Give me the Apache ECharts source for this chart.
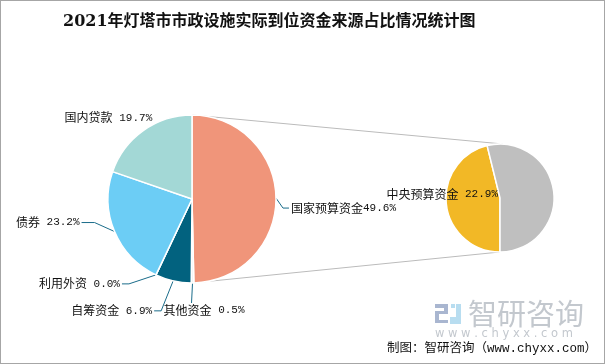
<!DOCTYPE html>
<html>
<head>
<meta charset="utf-8">
<script src="https://cdn.jsdelivr.net/npm/echarts@6/dist/echarts.min.js"></script>
<style>
html,body{margin:0;padding:0;background:#fff;}
#c{width:605px;height:364px;box-sizing:border-box;border:1px solid #A6A6A6;}
</style>
</head>
<body>
<div id="c"></div>
<script>
// ---- data ----
var mainNames = ['国家预算资金', '其他资金', '自筹资金', '利用外资', '债券', '国内贷款'];
var mainValues = [49.6, 0.5, 6.9, 0.0, 23.2, 19.7];
var mainSeps = ['', ' ', ' ', ' ', ' ', ' '];
var subNames = ['中央预算资金', '其他国家预算资金'];
var subValues = [22.9, 26.7];

// ---- styles ----
var mainColors = ['#F0957A', '#F4F4F4', '#02627F', '#4A8FA8', '#6CCDF5', '#A3D8D6'];
var subColors = ['#F2B826', '#BFBFBF'];

// ---- layout ----
var leftC = [191, 198], leftR = 84;
var rightC = [499, 197], rightR = 54;
// label placement relative to the slice edge point given by the library
var labelCfg = [
  {ox: 13, oy: 10, side: 'right', len2: 6},
  {ox: -1, oy: 20, side: 'below', shiftX: -28},
  {ox: -19, oy: 30, side: 'left', len2: 7},
  {ox: -34, oy: 9, side: 'left', len2: 7},
  {ox: -33, oy: -9, side: 'left', len2: 13},
  {ox: 11, oy: -13, side: 'left', len2: 0, noLine: true}
];

var chart = echarts.init(document.getElementById('c'), null, {renderer: 'canvas'});

var mainData = mainNames.map(function (n, i) {
  return {name: n, value: mainValues[i], itemStyle: {color: mainColors[i]}};
});
var subData = subNames.map(function (n, i) {
  return {
    name: n, value: subValues[i], itemStyle: {color: subColors[i]},
    label: {show: i === 0}
  };
});

var richStyle = {
  n: {fontSize: 12, color: '#111', fontFamily: "'Noto Sans CJK SC', sans-serif"},
  v: {fontSize: 11, color: '#111', fontFamily: "'Liberation Mono', monospace"}
};

function mainLabelLayout(p) {
  var cfg = labelCfg[p.dataIndex];
  var pts = p.labelLinePoints;
  var e = pts ? pts[0] : [p.rect.x, p.rect.y];
  var ax = e[0] + cfg.ox, ay = e[1] + cfg.oy;
  var gap = 2;
  if (cfg.side === 'below') {
    return {
      x: ax + cfg.shiftX, y: ay + 1, align: 'left', verticalAlign: 'top',
      labelLinePoints: [[e[0], e[1]], [ax, ay], [ax, ay]]
    };
  }
  var isLeft = cfg.side === 'left';
  var line = cfg.noLine
    ? [[e[0], e[1]], [e[0], e[1]], [e[0], e[1]]]
    : [[e[0], e[1]], [ax + (isLeft ? cfg.len2 : -cfg.len2), ay], [ax, ay]];
  return {
    x: ax + (isLeft ? -gap : gap), y: ay,
    align: isLeft ? 'right' : 'left', verticalAlign: 'middle',
    labelLinePoints: line
  };
}

chart.setOption({
  animation: false,
  title: {
    text: '2021年灯塔市市政设施实际到位资金来源占比情况统计图',
    left: 57, top: 8,
    textStyle: {fontSize: 16, fontWeight: 'bold', color: '#111', fontFamily: "'DejaVu Serif', 'Noto Sans CJK SC', serif"}
  },
  series: [
    {
      type: 'pie',
      center: leftC, radius: [0, leftR],
      startAngle: 90, clockwise: true,
      minShowLabelAngle: 0,
      avoidLabelOverlap: false,
      itemStyle: {borderColor: '#fff', borderWidth: 1.5},
      label: {
        show: true, position: 'outside', rich: richStyle,
        formatter: function (p) {
          return '{n|' + p.name + '}{v|' + mainSeps[p.dataIndex] + p.value.toFixed(1) + '%}';
        }
      },
      labelLine: {show: true, length: 14, length2: 10, lineStyle: {color: '#1A6C8A', width: 1}},
      labelLayout: mainLabelLayout,
      data: mainData
    },
    {
      type: 'pie',
      center: rightC, radius: [0, rightR],
      startAngle: -90, clockwise: true,
      itemStyle: {borderColor: '#fff', borderWidth: 1.5},
      label: {
        position: 'outside', rich: richStyle,
        formatter: function (p) { return '{n|' + p.name + '}{v| ' + p.value.toFixed(1) + '%}'; }
      },
      labelLine: {show: false},
      labelLayout: function () {
        return {x: rightC[0] - 2, y: rightC[1] - 4, align: 'right', verticalAlign: 'middle'};
      },
      data: subData
    }
  ],
  graphic: [
    {
      type: 'line', silent: true, z: -1,
      shape: {x1: leftC[0], y1: leftC[1] - leftR, x2: rightC[0] + 3, y2: rightC[1] - rightR},
      style: {stroke: '#BBBBBB', lineWidth: 1}
    },
    {
      type: 'line', silent: true, z: -1,
      shape: {x1: leftC[0], y1: leftC[1] + leftR, x2: rightC[0], y2: rightC[1] + rightR},
      style: {stroke: '#BBBBBB', lineWidth: 1}
    },
    // watermark logo
    {type: 'rect', left: 434, top: 303, shape: {width: 13, height: 4}, style: {fill: '#A9B6D0'}},
    {type: 'rect', left: 443, top: 303, shape: {width: 4, height: 10}, style: {fill: '#A9B6D0'}},
    {type: 'rect', left: 434, top: 310, shape: {width: 13, height: 3}, style: {fill: '#A9B6D0'}},
    {type: 'rect', left: 434, top: 310, shape: {width: 4, height: 12}, style: {fill: '#A9B6D0'}},
    {type: 'rect', left: 434, top: 319, shape: {width: 13, height: 3}, style: {fill: '#A9B6D0'}},
    {type: 'rect', left: 450, top: 303, shape: {width: 4, height: 4}, style: {fill: '#B8DDF0'}},
    {type: 'rect', left: 455, top: 303, shape: {width: 5, height: 20}, style: {fill: '#B8DDF0'}},
    {type: 'rect', left: 449, top: 316, shape: {width: 11, height: 7}, style: {fill: '#B8DDF0'}},
    {
      type: 'text', left: 467, top: 298,
      style: {text: '智研咨询', fontSize: 29, fill: '#C3C8CE', fontFamily: "'Noto Sans CJK SC', sans-serif"}
    },
    {
      type: 'text', left: 434, top: 327,
      style: {text: 'w w w . c h y x x . c o m', fontSize: 11.5, fill: '#C3C8CE', fontFamily: "'DejaVu Sans', sans-serif"}
    },
    {
      type: 'text', right: 7, top: 341,
      style: {text: '制图：智研咨询（www.chyxx.com）', fontSize: 12.5, fill: '#111', fontFamily: "'Liberation Mono', 'Noto Sans CJK SC', monospace"}
    }
  ]
});
</script>
</body>
</html>
